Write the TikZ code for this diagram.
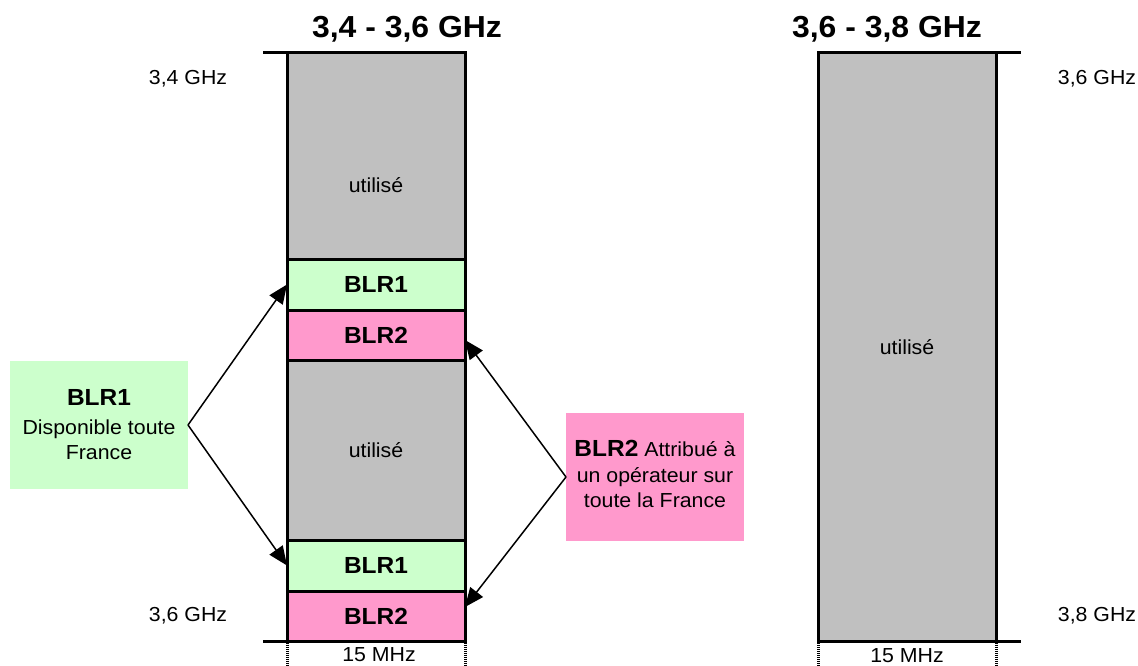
\documentclass[tikz,border=0pt]{standalone}
\usepackage{fontspec}
\setmainfont{Liberation Sans}[FakeStretch=1.05]
\usetikzlibrary{arrows.meta}

\newlength{\du}
\setlength{\du}{1pt}

\definecolor{usedgray}{RGB}{192,192,192}
\definecolor{blrgreen}{RGB}{204,255,204}
\definecolor{blrpink}{RGB}{255,153,204}

\tikzset{
  band/.style={draw=black, line width=3\du, inner sep=0pt, outer sep=0pt,
    minimum width=178\du, anchor=north west},
  bandtxt/.style={font=\fontsize{23.3}{27}\selectfont\bfseries},
  freq/.style={font=\fontsize{20.3}{25.5}\selectfont},
  bandtitle/.style={font=\fontsize{30.4}{34}\selectfont\bfseries, anchor=base},
  note/.style={inner sep=0pt, outer sep=0pt, align=center,
    minimum width=178\du, minimum height=128\du},
  % 1\du = 1pt, tips given in pt
  pointer/.style={line width=1.5\du, -{Triangle[length=19pt,width=16pt]}},
  markline/.style={line width=3\du},
  widthmark/.style={line width=3\du, dash pattern=on 1pt off 1pt},
}

\begin{document}
\begin{tikzpicture}[x=1\du,y=-1\du]
\useasboundingbox (0,0) rectangle (1138,666);

% 3,4 - 3,6 GHz
\node[band, fill=usedgray, minimum height=206\du] (ua) at (287,53) {};
\node[band, fill=blrgreen, minimum height=51\du, bandtxt] (ba1) at (287,259) {BLR1};
\node[band, fill=blrpink, minimum height=50\du, bandtxt] (bb1) at (287,310) {BLR2};
\node[band, fill=usedgray, minimum height=180\du, freq] (ub) at (287,360) {utilisé};
\node[band, fill=blrgreen, minimum height=51\du, bandtxt] (ba2) at (287,540) {BLR1};
\node[band, fill=blrpink, minimum height=50\du, bandtxt] (bb2) at (287,591) {BLR2};
\node[freq] (ut) at (376,185) {utilisé};

\draw[markline] (263,53) -- (ua.north east);
\draw[markline] (263,641) -- (bb2.south east);
\draw[widthmark] ([yshift=-1.5\du]bb2.south west) -- ++(0,25);
\draw[widthmark] ([yshift=-1.5\du]bb2.south east) -- ++(0,25);

\node[bandtitle] (ta) at (407,38) {3,4 - 3,6 GHz};
\node[freq, anchor=base] (fa) at (188,85) {3,4 GHz};
\node[freq, anchor=base] (fb) at (188,621) {3,6 GHz};
\node[freq, anchor=base] (wa) at (379,661) {15 MHz};

% 3,6 - 3,8 GHz
\node[band, fill=usedgray, minimum height=588\du, freq] (uc) at (818,53) {utilisé};

\draw[markline] (uc.north west) -- (1021,53);
\draw[markline] (uc.south west) -- (1021,641);
\draw[widthmark] ([yshift=-1.5\du]uc.south west) -- ++(0,25);
\draw[widthmark] ([yshift=-1.5\du]uc.south east) -- ++(0,25);

\node[bandtitle] (tb) at (887,38) {3,6 - 3,8 GHz};
\node[freq, anchor=base] (fc) at (1097,85) {3,6 GHz};
\node[freq, anchor=base] (fd) at (1097,621) {3,8 GHz};
\node[freq, anchor=base] (wb) at (907,662) {15 MHz};

% explications
\node[note, fill=blrgreen, freq] (na) at (99,425)
  {{\bfseries\fontsize{23.3}{27}\selectfont BLR1}\\[3\du]Disponible toute\\France};
\node[note, fill=blrpink, freq] (nb) at (655,477)
  {{\bfseries\fontsize{23.3}{27}\selectfont BLR2} Attribué à\\un opérateur sur\\toute la France\rule[-6\du]{0pt}{0pt}};

\draw[pointer] (na.east) -- (ba1.west);
\draw[pointer] (na.east) -- (ba2.west);
\draw[pointer] (nb.west) -- ([yshift=-5\du]bb1.east);
\draw[pointer] (nb.west) -- ([yshift=9\du]bb2.east);
\end{tikzpicture}
\end{document}
